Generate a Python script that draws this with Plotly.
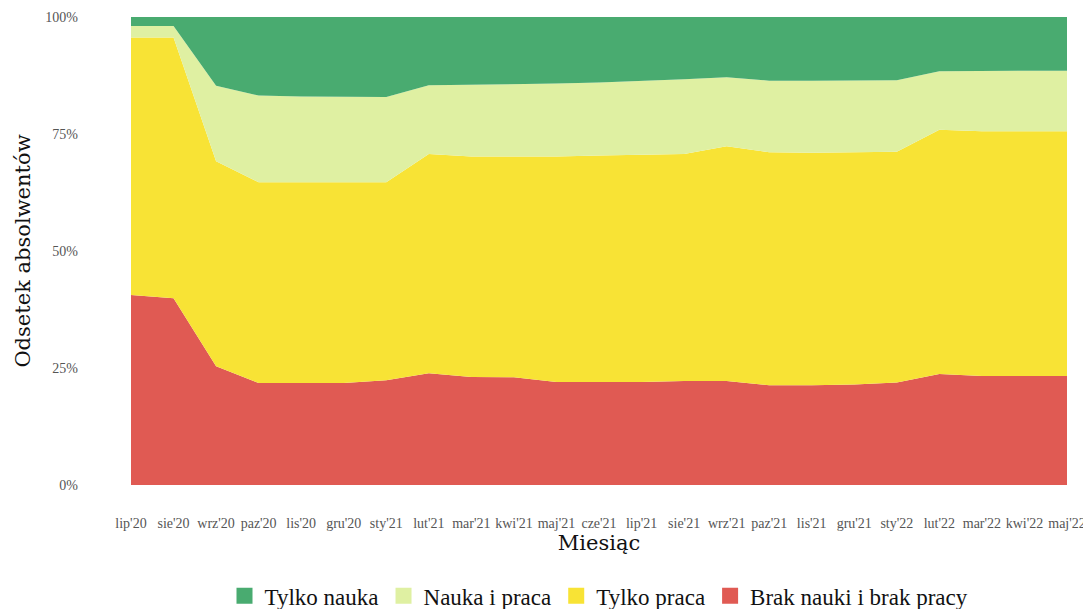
import plotly.graph_objects as go

months = ["lip'20", "sie'20", "wrz'20", "paz'20", "lis'20", "gru'20", "sty'21", "lut'21",
          "mar'21", "kwi'21", "maj'21", "cze'21", "lip'21", "sie'21", "wrz'21", "paz'21",
          "lis'21", "gru'21", "sty'22", "lut'22", "mar'22", "kwi'22", "maj'22"]

brak = [40.6, 39.9, 25.4, 21.8, 21.8, 21.8, 22.4, 23.9, 23.1, 23.0, 22.0, 22.0,
        22.0, 22.2, 22.2, 21.3, 21.3, 21.5, 21.9, 23.7, 23.3, 23.3, 23.3]
tylko_praca = [55.0, 55.7, 43.8, 42.9, 42.9, 42.9, 42.3, 46.8, 47.1, 47.2, 48.2, 48.4,
               48.5, 48.5, 50.2, 49.8, 49.7, 49.6, 49.3, 52.2, 52.3, 52.3, 52.3]
nauka_praca = [2.5, 2.5, 16.1, 18.5, 18.3, 18.2, 18.2, 14.7, 15.3, 15.5, 15.6, 15.6,
               15.8, 16.0, 14.7, 15.3, 15.4, 15.3, 15.3, 12.5, 12.9, 12.9, 12.9]
tylko_nauka = [1.9, 1.9, 14.7, 16.8, 17.0, 17.1, 17.1, 14.6, 14.5, 14.3, 14.2, 14.0,
               13.7, 13.3, 12.9, 13.6, 13.6, 13.6, 13.5, 11.6, 11.5, 11.5, 11.5]

y_tick_vals = [0, 25, 50, 75, 100]
y_tick_text = ["0%", "25%", "50%", "75%", "100%"]

series = [
    ("Brak nauki i brak pracy", brak, "#E05A53"),
    ("Tylko praca", tylko_praca, "#F8E335"),
    ("Nauka i praca", nauka_praca, "#DFF0A2"),
    ("Tylko nauka", tylko_nauka, "#49AB70"),
]

fig = go.Figure()
for name, vals, col in series:
    fig.add_trace(go.Scatter(
        x=months, y=vals, name=name, mode="lines",
        stackgroup="one", groupnorm="percent",
        line=dict(width=0, color=col), fillcolor=col,
        showlegend=False, legendgroup=name,
    ))
# legend entries with square swatches
for name, vals, col in reversed(series):
    fig.add_trace(go.Scatter(
        x=[None], y=[None], name=name, mode="markers", legendgroup=name,
        marker=dict(symbol="square", size=25, color=col), showlegend=True,
        hoverinfo="skip",
    ))

serif = "DejaVu Serif"
fig.update_layout(
    width=1083, height=601,
    margin=dict(l=123, r=24, t=9, b=124, autoexpand=False),
    plot_bgcolor="white", paper_bgcolor="white",
    font=dict(family=serif, color="#222"),
    legend=dict(orientation="h", x=0.5, xanchor="center", y=-0.237, yanchor="middle",
                traceorder="normal", itemwidth=30,
                font=dict(family="Liberation Serif", size=23, color="#111")),
    showlegend=True,
)
fig.update_xaxes(
    type="category", range=[0, 22], showgrid=False, zeroline=False, showline=False,
    automargin=False, tickangle=0,
    tickfont=dict(family="Liberation Serif", size=14, color="#555"), ticklabelstandoff=28,
    title=dict(text="Miesiąc", font=dict(family=serif, size=21, color="#111"), standoff=2),
)
fig.update_yaxes(
    range=[0, 100], tickvals=y_tick_vals, ticktext=y_tick_text, showgrid=False,
    zeroline=False, showline=False, automargin=False,
    tickfont=dict(family="Liberation Serif", size=14, color="#555"), ticklabelstandoff=52,
    title=dict(text="Odsetek absolwentów", font=dict(family=serif, size=21, color="#111"), standoff=8),
)

fig.write_html("out.html")
